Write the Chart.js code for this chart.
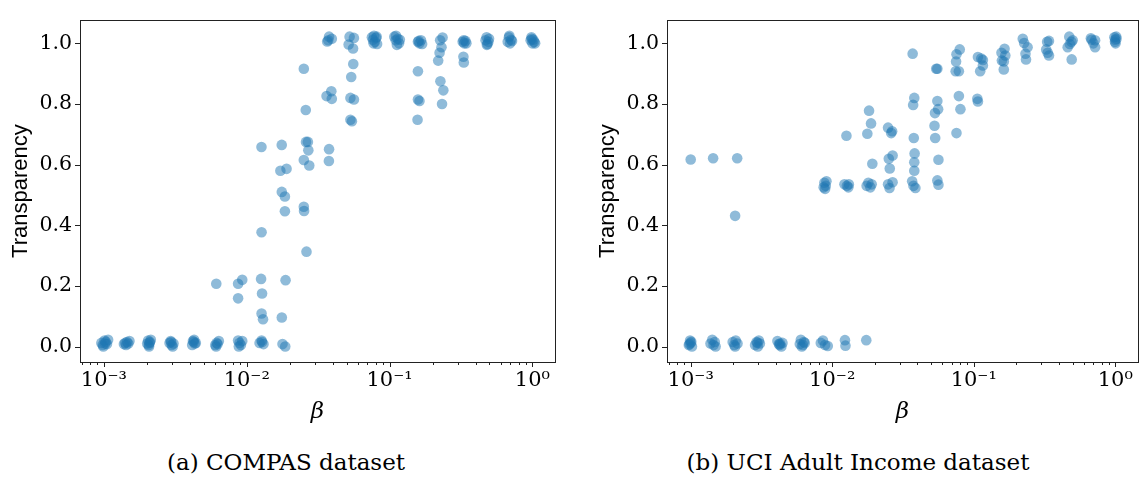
<!DOCTYPE html>
<html lang="en">
<head>
    <meta charset="UTF-8">
    <title>Transparency vs beta</title>
    <script src="https://cdn.jsdelivr.net/npm/chart.js"></script>
    <style>
        body { margin: 0; background: #fff; width: 1143px; height: 477px; position: relative; overflow: hidden; }
        canvas { position: absolute; top: 0; }
        #chartA { left: 0; }
        #chartB { left: 587px; }
        .caption { position: absolute; top: 449px; font-family: "DejaVu Serif", serif; font-size: 23px; color: #000; transform: translateX(-50%); white-space: nowrap; }
    </style>
</head>
<body>
    <canvas id="chartA" width="571" height="430"></canvas>
    <canvas id="chartB" width="556" height="430"></canvas>
    <div class="caption" style="left: 286px;">(a) COMPAS dataset</div>
    <div class="caption" style="left: 858px;">(b) UCI Adult Income dataset</div>

    <script>
        // COMPAS: beta (with small jitter) and transparency, grouped by beta level
        const compasBeta = [
            0.00096, 0.00098, 0.00101, 0.00103, 0.00105, 0.00107, 0.00099, 0.00102,
            0.00138, 0.00141, 0.00145, 0.00148, 0.00151, 0.00143,
            0.00201, 0.00204, 0.00207, 0.0021, 0.00213, 0.00206, 0.00209,
            0.00288, 0.00293, 0.00298, 0.00303, 0.00307, 0.00296,
            0.00415, 0.0042, 0.00428, 0.00433, 0.0044, 0.00425,
            0.00602, 0.0061, 0.00616, 0.00625, 0.00638, 0.00612,
            0.0087, 0.0089, 0.0091, 0.0093, 0.0088, 0.0087, 0.0093, 0.0087,
            0.0123, 0.0127, 0.0131, 0.0128, 0.01268, 0.0127, 0.0126, 0.0128, 0.0127, 0.013,
            0.0178, 0.0186, 0.01758, 0.0172, 0.019, 0.0176, 0.0185, 0.0185, 0.0187, 0.0176,
            0.0251, 0.0259, 0.026, 0.0268, 0.027, 0.0251, 0.0274, 0.0251, 0.0252, 0.0262,
            0.0377, 0.0366, 0.0394, 0.0372, 0.0391, 0.0362, 0.0394, 0.0377, 0.0376,
            0.0525, 0.0563, 0.0517, 0.0555, 0.0557, 0.0539, 0.0532, 0.0563, 0.0532, 0.0545,
            0.0752, 0.0765, 0.0778, 0.079, 0.0805, 0.0818, 0.0772, 0.0812,
            0.108, 0.1105, 0.1125, 0.114, 0.1165, 0.118, 0.111,
            0.158, 0.162, 0.166, 0.169, 0.16, 0.158, 0.158, 0.162, 0.157,
            0.235, 0.226, 0.231, 0.224, 0.219, 0.227, 0.238, 0.233,
            0.325, 0.333, 0.34, 0.345, 0.33, 0.329, 0.331,
            0.47, 0.478, 0.485, 0.492, 0.48, 0.497,
            0.672, 0.685, 0.698, 0.71, 0.72, 0.69,
            0.972, 0.985, 1.0, 1.015, 1.03, 1.045, 0.99
        ];
        const compasTransparency = [
            0.012, 0.005, 0.02, 0.016, 0.008, 0.022, 0.0, 0.01,
            0.008, 0.012, 0.015, 0.01, 0.018, 0.005,
            0.01, 0.02, 0.0, 0.015, 0.022, 0.005, 0.012,
            0.012, 0.018, 0.005, 0.0, 0.01, 0.015,
            0.005, 0.018, 0.022, 0.01, 0.012, 0.015,
            0.005, 0.0, 0.012, 0.008, 0.018, 0.207,
            0.02, 0.012, 0.005, 0.018, 0.0, 0.207, 0.22, 0.159,
            0.012, 0.02, 0.008, 0.015, 0.658, 0.377, 0.223, 0.175, 0.109, 0.09,
            0.008, 0.0, 0.665, 0.58, 0.586, 0.51, 0.495, 0.446, 0.219, 0.096,
            0.916, 0.78, 0.675, 0.675, 0.647, 0.615, 0.597, 0.461, 0.447, 0.313,
            1.022, 1.006, 1.015, 1.01, 0.842, 0.826, 0.817, 0.651, 0.612,
            1.022, 1.018, 0.996, 0.983, 0.932, 0.889, 0.82, 0.815, 0.748, 0.743,
            1.02, 1.012, 1.025, 1.005, 1.018, 0.998, 1.0, 1.022,
            1.022, 1.01, 0.995, 1.015, 1.0, 1.012, 1.025,
            1.005, 1.0, 1.01, 0.998, 1.008, 0.908, 0.815, 0.81, 0.748,
            1.019, 1.01, 0.987, 0.969, 0.943, 0.875, 0.845, 0.8,
            1.005, 1.0, 1.008, 1.0, 1.01, 0.956, 0.937,
            1.01, 1.02, 0.998, 1.005, 0.995, 1.015,
            1.005, 1.02, 1.0, 1.012, 1.008, 1.025,
            1.01, 1.02, 1.0, 1.012, 1.005, 1.0, 1.015
        ];

        // UCI Adult Income
        const adultBeta = [
            0.00097, 0.00099, 0.001, 0.00102, 0.00101, 0.00098, 0.001,
            0.00138, 0.00142, 0.00145, 0.00148, 0.0015, 0.00144,
            0.00198, 0.00203, 0.00208, 0.00214, 0.00206, 0.00213, 0.00206,
            0.00285, 0.00292, 0.00298, 0.00303, 0.00308, 0.00296,
            0.0041, 0.0042, 0.00428, 0.00437, 0.00445, 0.00425,
            0.0059, 0.006, 0.0061, 0.0063, 0.0064, 0.0062,
            0.0083, 0.0086, 0.0089, 0.0093, 0.0087, 0.0088, 0.009, 0.0091, 0.0089,
            0.0123, 0.0124, 0.0126, 0.0122, 0.0127, 0.0131, 0.013,
            0.0174, 0.0182, 0.0188, 0.0177, 0.0192, 0.0175, 0.018, 0.0186, 0.019,
            0.0248, 0.0261, 0.0265, 0.0267, 0.0251, 0.0255, 0.0267, 0.0248, 0.0254,
            0.037, 0.038, 0.0373, 0.0377, 0.0382, 0.038, 0.038, 0.0367, 0.0387, 0.0375,
            0.0553, 0.0543, 0.0553, 0.056, 0.0532, 0.0528, 0.0534, 0.0563, 0.0553, 0.0563,
            0.0796, 0.0755, 0.075, 0.0745, 0.0785, 0.0785, 0.0805, 0.0755,
            0.107, 0.113, 0.116, 0.116, 0.111, 0.106, 0.107,
            0.165, 0.157, 0.167, 0.158, 0.163, 0.163,
            0.222, 0.227, 0.24, 0.232, 0.234,
            0.34, 0.33, 0.325, 0.333, 0.34,
            0.473, 0.5, 0.477, 0.461, 0.492, 0.49,
            0.672, 0.72, 0.7, 0.72, 0.68,
            0.985, 1.0, 1.015, 0.995, 1.02, 1.005
        ];
        const adultTransparency = [
            0.005, 0.02, 0.012, 0.0, 0.016, 0.008, 0.617,
            0.01, 0.022, 0.005, 0.015, 0.0, 0.621,
            0.015, 0.005, 0.02, 0.01, 0.0, 0.621, 0.431,
            0.005, 0.015, 0.0, 0.02, 0.01, 0.012,
            0.018, 0.008, 0.01, 0.0, 0.012, 0.005,
            0.008, 0.022, 0.0, 0.015, 0.012, 0.005,
            0.012, 0.02, 0.005, 0.002, 0.525, 0.54, 0.53, 0.545, 0.52,
            0.021, 0.003, 0.695, 0.535, 0.53, 0.535, 0.525,
            0.021, 0.778, 0.736, 0.702, 0.603, 0.53, 0.54, 0.525, 0.535,
            0.722, 0.704, 0.71, 0.63, 0.619, 0.587, 0.542, 0.535, 0.523,
            0.966, 0.82, 0.797, 0.688, 0.637, 0.608, 0.58, 0.545, 0.523, 0.53,
            0.916, 0.916, 0.81, 0.783, 0.77, 0.728, 0.688, 0.616, 0.548, 0.534,
            0.98, 0.964, 0.94, 0.908, 0.908, 0.826, 0.783, 0.704,
            0.955, 0.95, 0.945, 0.927, 0.908, 0.817, 0.808,
            0.982, 0.969, 0.96, 0.943, 0.94, 0.914,
            1.015, 1.001, 0.987, 0.966, 0.947,
            1.008, 1.005, 0.98, 0.969, 0.96,
            1.022, 1.01, 0.998, 0.987, 0.947, 1.005,
            1.017, 1.01, 1.0, 0.987, 1.012,
            1.02, 1.012, 1.022, 1.005, 1.015, 1.0
        ];

        // ticks
        const xMajorTicks = [0.001, 0.01, 0.1, 1];
        const xTickLabels = ['10\u207B\u00B3', '10\u207B\u00B2', '10\u207B\u00B9', '10\u2070'];
        const xMinorTicks = [
            0.0007, 0.0008, 0.0009,
            0.002, 0.003, 0.004, 0.005, 0.006, 0.007, 0.008, 0.009,
            0.02, 0.03, 0.04, 0.05, 0.06, 0.07, 0.08, 0.09,
            0.2, 0.3, 0.4, 0.5, 0.6, 0.7, 0.8, 0.9
        ];
        const yTickValues = [0, 0.2, 0.4, 0.6, 0.8, 1.0];

        Chart.defaults.color = '#000';
        const serif = '"DejaVu Serif", serif';

        // frame on all four sides plus matplotlib-like tick marks
        const frameAndTicks = {
            id: 'frameAndTicks',
            afterDraw(chart) {
                const { ctx, chartArea: a, scales } = chart;
                ctx.save();
                ctx.strokeStyle = '#222';
                ctx.lineWidth = 1;
                ctx.strokeRect(Math.round(a.left) + 0.5, Math.round(a.top) + 0.5,
                    Math.round(a.right - a.left), Math.round(a.bottom - a.top));
                ctx.beginPath();
                scales.x.ticks.forEach(t => {
                    const px = Math.round(scales.x.getPixelForValue(t.value)) + 0.5;
                    if (px < a.left || px > a.right) return;
                    const len = xMajorTicks.includes(t.value) ? 5 : 3;
                    ctx.moveTo(px, a.bottom);
                    ctx.lineTo(px, a.bottom + len);
                });
                scales.y.ticks.forEach(t => {
                    const py = Math.round(scales.y.getPixelForValue(t.value)) + 0.5;
                    ctx.moveTo(a.left, py);
                    ctx.lineTo(a.left - 5, py);
                });
                ctx.stroke();
                ctx.restore();
            }
        };

        function makeChart(canvasId, betas, values, padRight) {
            const points = betas.map((b, i) => ({ x: b, y: values[i] }));
            return new Chart(document.getElementById(canvasId), {
                type: 'scatter',
                data: {
                    datasets: [{
                        data: points,
                        backgroundColor: 'rgba(31, 119, 180, 0.5)',
                        borderWidth: 0,
                        pointRadius: 5.3,
                        pointHoverRadius: 5.3
                    }]
                },
                options: {
                    responsive: false,
                    animation: false,
                    events: [],
                    layout: { padding: { left: 0, right: padRight, top: 8, bottom: 0 } },
                    plugins: { legend: { display: false }, tooltip: { enabled: false } },
                    scales: {
                        x: {
                            type: 'logarithmic',
                            min: 0.00068,
                            max: 1.44,
                            afterBuildTicks: s => { s.ticks = xMinorTicks.concat(xMajorTicks).sort((p, q) => p - q).map(v => ({ value: v })); },
                            afterFit: s => { s.height = 68; },
                            grid: { display: false, drawTicks: false },
                            border: { display: false },
                            ticks: {
                                autoSkip: false,
                                maxRotation: 0,
                                padding: 6,
                                font: { family: serif, size: 21 },
                                callback: v => {
                                    const i = xMajorTicks.indexOf(v);
                                    return i >= 0 ? xTickLabels[i] : '';
                                }
                            },
                            title: {
                                display: true,
                                text: 'β',
                                font: { family: serif, size: 23, style: 'italic' },
                                padding: { top: 0, bottom: 4 }
                            }
                        },
                        y: {
                            min: -0.051,
                            max: 1.076,
                            afterBuildTicks: s => { s.ticks = yTickValues.map(v => ({ value: v })); },
                            afterFit: s => { s.width = 80; },
                            grid: { display: false, drawTicks: false },
                            border: { display: false },
                            ticks: {
                                padding: 8,
                                font: { family: serif, size: 20.5 },
                                callback: v => v.toFixed(1)
                            },
                            title: {
                                display: true,
                                text: 'Transparency',
                                font: { family: '"Liberation Sans", sans-serif', size: 22 },
                                padding: { top: 8, bottom: 0 }
                            }
                        }
                    }
                },
                plugins: [frameAndTicks]
            });
        }

        makeChart('chartA', compasBeta, compasTransparency, 16);
        makeChart('chartB', adultBeta, adultTransparency, 1);
    </script>
</body>
</html>
